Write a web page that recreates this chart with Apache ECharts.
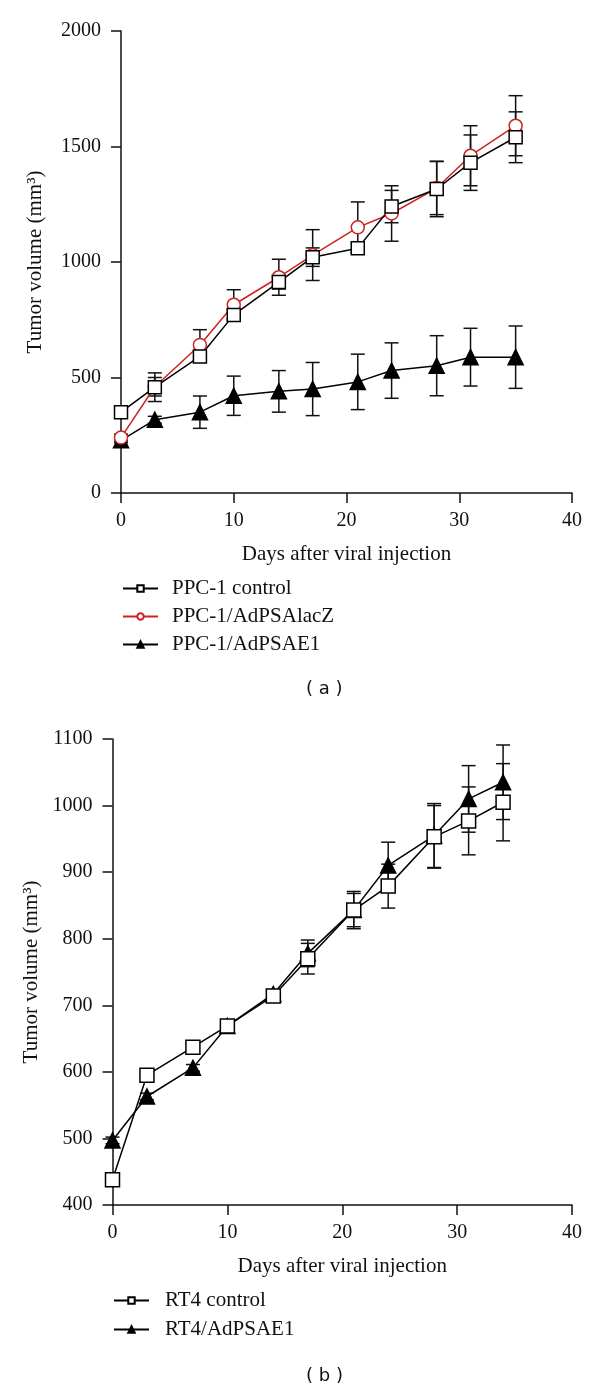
<!DOCTYPE html>
<html>
<head>
<meta charset="utf-8">
<script src="https://cdn.jsdelivr.net/npm/echarts@6/dist/echarts.min.js"></script>
<style>
html,body{margin:0;padding:0;background:#fff;}
#c{width:600px;height:1393px;}
</style>
</head>
<body>
<div id="c"></div>
<script>
// ---- Panel (a) data ----
const daysA = [0, 3, 7, 10, 14, 17, 21, 24, 28, 31, 35];
const ppcControl = [350, 458, 591, 771, 913, 1021, 1060, 1240, 1316, 1430, 1540];
const ppcControlErr = [15, 62, 20, 20, 30, 40, 20, 70, 120, 120, 110];
const ppcLacZ = [240, 460, 641, 815, 934, 1030, 1150, 1210, 1320, 1460, 1590];
const ppcLacZErr = [15, 40, 66, 65, 78, 110, 110, 120, 115, 130, 130];
const ppcE1 = [228, 317, 350, 421, 440, 450, 481, 530, 551, 588, 588];
const ppcE1Err = [10, 15, 70, 85, 90, 115, 120, 120, 130, 125, 135];

// ---- Panel (b) data ----
const daysB = [0, 3, 7, 10, 14, 17, 21, 24, 28, 31, 34];
const rt4Control = [438, 595, 637, 669, 714, 770, 843, 879, 953, 977, 1005];
const rt4ControlErr = [5, 5, 5, 5, 6, 23, 25, 33, 47, 51, 58];
const rt4E1 = [497, 563, 606, 669, 717, 778, 843, 910, 955, 1010, 1035];
const rt4E1Err = [5, 5, 5, 5, 6, 20, 28, 35, 48, 50, 56];

const namesA = ['PPC-1 control', 'PPC-1/AdPSAlacZ', 'PPC-1/AdPSAE1'];
const namesB = ['RT4 control', 'RT4/AdPSAE1'];

const SERIF = 'Liberation Serif';
const RED = '#cc2222';

function pairs(days, vals) { return days.map((d, i) => [d, vals[i]]); }
function triples(days, vals, errs) { return days.map((d, i) => [d, vals[i], errs[i]]); }

let errCount = 0;
function errSeries(idx, days, vals, errs, color, capHalf) {
  errCount++;
  return {
    type: 'custom',
    name: 'errorbars-' + errCount,
    xAxisIndex: idx, yAxisIndex: idx,
    z: 1,
    silent: true,
    data: triples(days, vals, errs),
    renderItem: function (params, api) {
      const x = api.value(0), y = api.value(1), e = api.value(2);
      const t = api.coord([x, y + e]);
      const b = api.coord([x, y - e]);
      const st = { stroke: color, lineWidth: 1.5 };
      return {
        type: 'group',
        children: [
          { type: 'line', shape: { x1: t[0], y1: t[1], x2: b[0], y2: b[1] }, style: st },
          { type: 'line', shape: { x1: t[0] - capHalf, y1: t[1], x2: t[0] + capHalf, y2: t[1] }, style: st },
          { type: 'line', shape: { x1: b[0] - capHalf, y1: b[1], x2: b[0] + capHalf, y2: b[1] }, style: st }
        ]
      };
    }
  };
}

function lineSeries(idx, name, days, vals, symbol, size, fill, stroke, lw) {
  return {
    type: 'line',
    name: name,
    xAxisIndex: idx, yAxisIndex: idx,
    z: 3,
    data: pairs(days, vals),
    symbol: symbol,
    symbolSize: size,
    showAllSymbol: true,
    animation: false,
    lineStyle: { color: stroke, width: lw },
    itemStyle: { color: fill, borderColor: stroke, borderWidth: 1.5, opacity: 1 }
  };
}

function plain(v) { return String(v); }

function xAxis(idx) {
  return {
    type: 'value', gridIndex: idx, min: 0, max: 40, interval: 10,
    name: 'Days after viral injection', nameLocation: 'middle', nameGap: 51,
    nameTextStyle: { fontFamily: SERIF, fontSize: 21, color: '#111' },
    axisLine: { show: true, onZero: false, lineStyle: { color: '#111', width: 1.5 } },
    axisTick: { show: true, inside: false, length: 10, lineStyle: { color: '#111', width: 1.5 } },
    axisLabel: { fontFamily: SERIF, fontSize: 20, color: '#111', margin: 18, formatter: plain },
    splitLine: { show: false }
  };
}
function yAxis(idx, min, max, interval, gap) {
  return {
    type: 'value', gridIndex: idx, min: min, max: max, interval: interval,
    name: 'Tumor volume (mm³)', nameLocation: 'middle', nameGap: gap, nameRotate: 90,
    nameTextStyle: { fontFamily: SERIF, fontSize: 21, color: '#111' },
    axisLine: { show: true, onZero: false, lineStyle: { color: '#111', width: 1.5 } },
    axisTick: { show: true, inside: false, length: 10, lineStyle: { color: '#111', width: 1.5 } },
    axisLabel: { fontFamily: SERIF, fontSize: 20, color: '#111', margin: 20, formatter: plain },
    splitLine: { show: false }
  };
}

const chart = echarts.init(document.getElementById('c'), null, { renderer: 'canvas' });
chart.setOption({
  animation: false,
  backgroundColor: '#fff',
  grid: [
    { left: 121, right: 28, top: 31, height: 462 },
    { left: 112.5, right: 28, top: 739, height: 466 }
  ],
  xAxis: [xAxis(0), xAxis(1)],
  yAxis: [yAxis(0, 0, 2000, 500, 75), yAxis(1, 400, 1100, 100, 66)],
  legend: [
    {
      data: namesA, orient: 'vertical', left: 122, top: 578, padding: 0,
      itemWidth: 35, itemHeight: 8, itemGap: 7,
      textStyle: { fontFamily: SERIF, fontSize: 21, color: '#111', padding: [0, 0, 0, 9] }
    },
    {
      data: namesB, orient: 'vertical', left: 113, top: 1290, padding: 0,
      itemWidth: 35, itemHeight: 8, itemGap: 8,
      textStyle: { fontFamily: SERIF, fontSize: 21, color: '#111', padding: [0, 0, 0, 11] }
    }
  ],
  graphic: [
    { type: 'text', left: 306, top: 680, style: { text: '( a )', font: '18px "DejaVu Sans"', fill: '#111' } },
    { type: 'text', left: 306, top: 1367, style: { text: '( b )', font: '18px "DejaVu Sans"', fill: '#111' } }
  ],
  series: [
    errSeries(0, daysA, ppcE1, ppcE1Err, '#111', 7),
    errSeries(0, daysA, ppcControl, ppcControlErr, '#111', 7),
    errSeries(0, daysA, ppcLacZ, ppcLacZErr, '#111', 7),
    lineSeries(0, namesA[2], daysA, ppcE1, 'triangle', 15, '#000', '#000', 1.5),
    lineSeries(0, namesA[1], daysA, ppcLacZ, 'circle', 13, '#fff', RED, 1.5),
    lineSeries(0, namesA[0], daysA, ppcControl, 'rect', 13, '#fff', '#000', 1.5),
    errSeries(1, daysB, rt4E1, rt4E1Err, '#111', 7),
    errSeries(1, daysB, rt4Control, rt4ControlErr, '#111', 7),
    lineSeries(1, namesB[1], daysB, rt4E1, 'triangle', 15, '#000', '#000', 1.5),
    lineSeries(1, namesB[0], daysB, rt4Control, 'rect', 14, '#fff', '#000', 1.5)
  ]
});
</script>
</body>
</html>
